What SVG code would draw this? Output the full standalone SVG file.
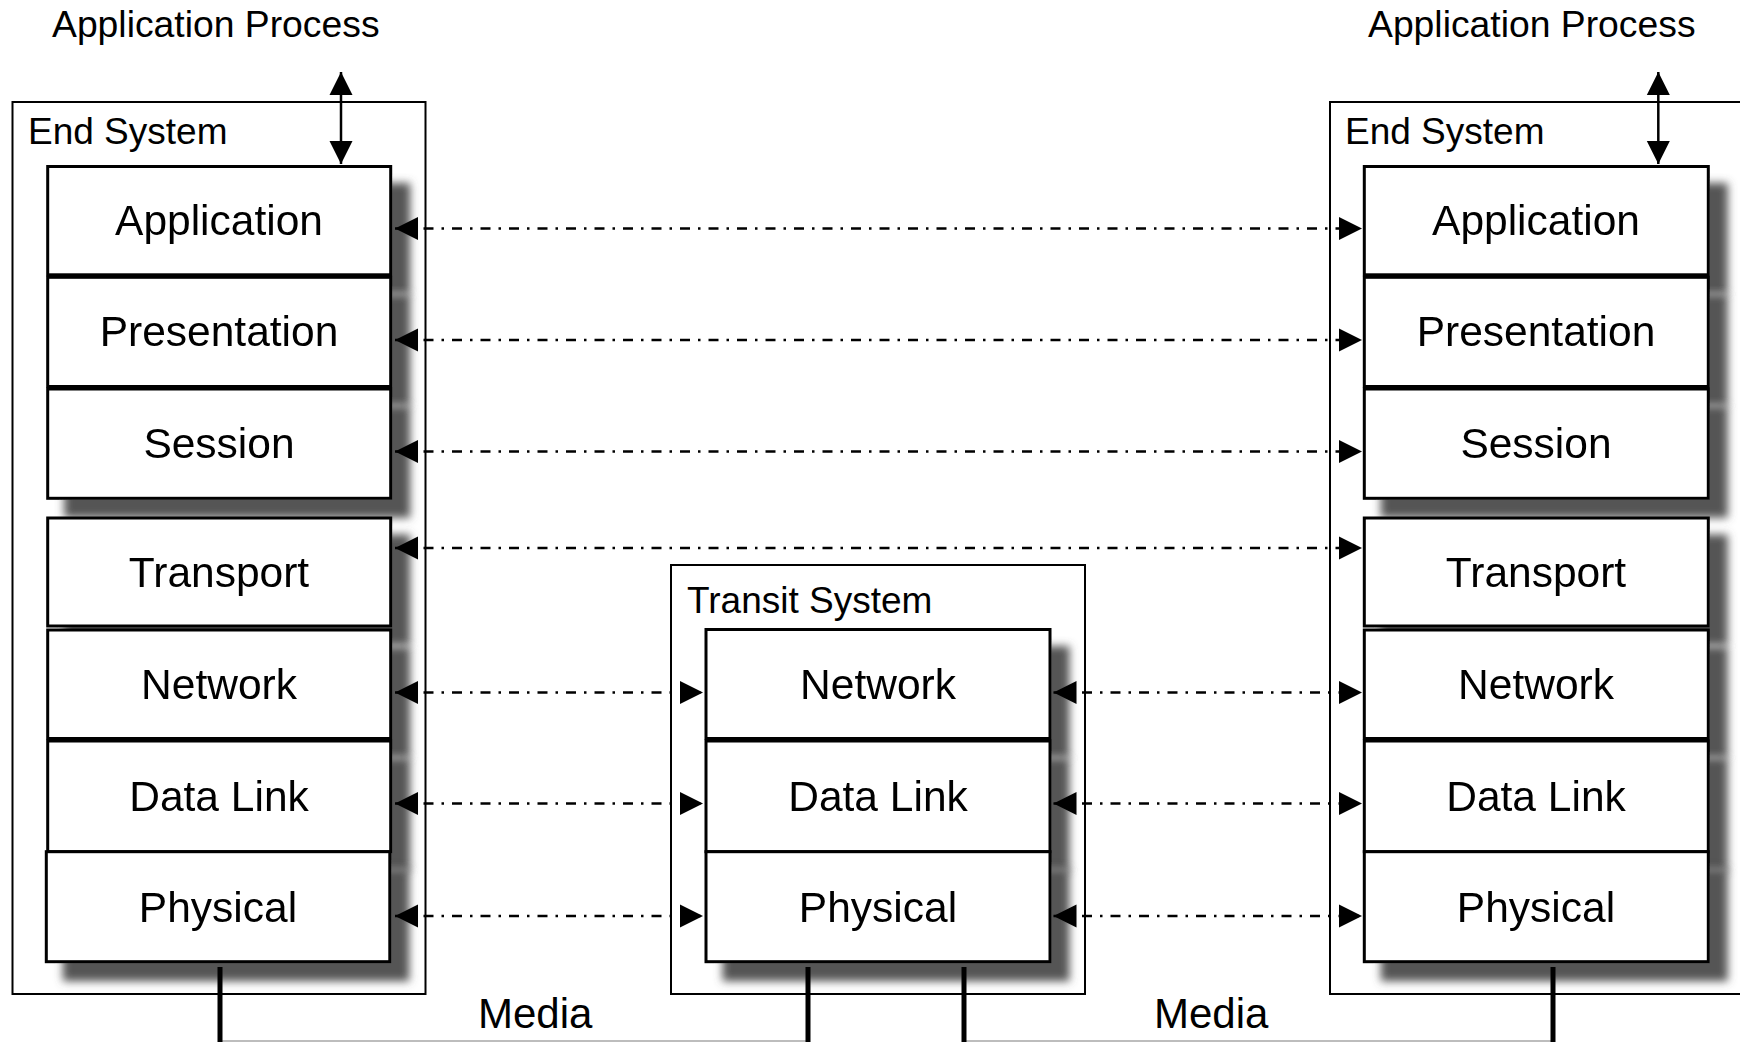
<svg xmlns="http://www.w3.org/2000/svg" width="1740" height="1042" viewBox="0 0 1740 1042">
<defs>
  <filter id="shadow" x="-10%" y="-10%" width="130%" height="140%">
    <feGaussianBlur in="SourceAlpha" stdDeviation="4.5" result="bl"/>
    <feOffset in="bl" dx="18" dy="18" result="b"/>
    <feFlood flood-color="#555555" result="c"/>
    <feComposite in="c" in2="b" operator="in" result="s"/>
    <feMerge><feMergeNode in="s"/><feMergeNode in="SourceGraphic"/></feMerge>
  </filter>
  <marker id="ah" markerUnits="userSpaceOnUse" markerWidth="24" markerHeight="24" refX="23" refY="12" orient="auto-start-reverse" viewBox="0 0 24 24">
    <path d="M0,0.5 L23,12 L0,23.5 Z" fill="#000"/>
  </marker>
</defs>
<style>
  .sys { fill: none; stroke: #000; stroke-width: 2; }
  .layer rect { fill: #fff; stroke: #000; stroke-width: 3; }
  .lbl { font-family: "Liberation Sans", Arial, sans-serif; font-size: 42.5px; text-anchor: middle; fill: #000; }
  .cap { font-family: "Liberation Sans", Arial, sans-serif; font-size: 37px; fill: #000; }
  .media { font-family: "Liberation Sans", Arial, sans-serif; font-size: 42px; fill: #000; }
  .peer { stroke: #000; stroke-width: 2.5; stroke-dasharray: 10 8 2.5 8; fill: none; marker-start: url(#ah); marker-end: url(#ah); }
  .api { stroke: #000; stroke-width: 2.5; fill: none; marker-start: url(#ah); marker-end: url(#ah); }
  .drop { stroke: #000; stroke-width: 5; }
  .wire { stroke: #bdbdbd; stroke-width: 2; }
</style>
<rect width="1740" height="1042" fill="#fff"/>

<text class="cap" x="52" y="37" style="font-size:37.3px">Application Process</text>
<text class="cap" x="1368" y="37" style="font-size:37.3px">Application Process</text>

<g id="end-system-left">
  <rect class="sys" x="12.5" y="102" width="413" height="892"/>
  <text class="cap" x="28" y="144">End System</text>
</g>
<g id="transit-system">
  <rect class="sys" x="671" y="565" width="414" height="429"/>
  <text class="cap" x="687" y="613">Transit System</text>
</g>
<g id="end-system-right">
  <rect class="sys" x="1330" y="102" width="440" height="892"/>
  <text class="cap" x="1345" y="144">End System</text>
</g>

<!-- left layers -->
<g id="L-application" class="layer" filter="url(#shadow)"><rect x="47.7" y="166.5" width="343" height="108.3"/><text class="lbl" x="219" y="235">Application</text></g>
<g id="L-presentation" class="layer" filter="url(#shadow)"><rect x="47.7" y="277.3" width="343" height="109.2"/><text class="lbl" x="219" y="346">Presentation</text></g>
<g id="L-session" class="layer" filter="url(#shadow)"><rect x="47.7" y="389" width="343" height="109.3"/><text class="lbl" x="219" y="458">Session</text></g>
<g id="L-transport" class="layer" filter="url(#shadow)"><rect x="47.7" y="518" width="343" height="108"/><text class="lbl" x="219" y="587">Transport</text></g>
<g id="L-network" class="layer" filter="url(#shadow)"><rect x="47.7" y="630" width="343" height="108.5"/><text class="lbl" x="219" y="699">Network</text></g>
<g id="L-datalink" class="layer" filter="url(#shadow)"><rect x="47.7" y="741" width="343" height="110.7"/><text class="lbl" x="219" y="811">Data Link</text></g>
<g id="L-physical" class="layer" filter="url(#shadow)"><rect x="46.3" y="851.7" width="343.5" height="110"/><text class="lbl" x="218" y="922">Physical</text></g>

<!-- transit layers -->
<g id="T-network" class="layer" filter="url(#shadow)"><rect x="706" y="629.5" width="344" height="109"/><text class="lbl" x="878" y="699">Network</text></g>
<g id="T-datalink" class="layer" filter="url(#shadow)"><rect x="706" y="741" width="344" height="110.7"/><text class="lbl" x="878" y="811">Data Link</text></g>
<g id="T-physical" class="layer" filter="url(#shadow)"><rect x="706" y="851.7" width="344" height="110"/><text class="lbl" x="878" y="922">Physical</text></g>

<!-- right layers -->
<g id="R-application" class="layer" filter="url(#shadow)"><rect x="1364.3" y="166.5" width="344" height="108.3"/><text class="lbl" x="1536" y="235">Application</text></g>
<g id="R-presentation" class="layer" filter="url(#shadow)"><rect x="1364.3" y="277.3" width="344" height="109.2"/><text class="lbl" x="1536" y="346">Presentation</text></g>
<g id="R-session" class="layer" filter="url(#shadow)"><rect x="1364.3" y="389" width="344" height="109.3"/><text class="lbl" x="1536" y="458">Session</text></g>
<g id="R-transport" class="layer" filter="url(#shadow)"><rect x="1364.3" y="518" width="344" height="108"/><text class="lbl" x="1536" y="587">Transport</text></g>
<g id="R-network" class="layer" filter="url(#shadow)"><rect x="1364.3" y="630" width="344" height="108.5"/><text class="lbl" x="1536" y="699">Network</text></g>
<g id="R-datalink" class="layer" filter="url(#shadow)"><rect x="1364.3" y="741" width="344" height="110.7"/><text class="lbl" x="1536" y="811">Data Link</text></g>
<g id="R-physical" class="layer" filter="url(#shadow)"><rect x="1364.3" y="851.7" width="344" height="110"/><text class="lbl" x="1536" y="922">Physical</text></g>

<g id="media-labels">
  <text class="media" x="478" y="1028">Media</text>
  <text class="media" x="1154" y="1028">Media</text>
</g>

<g id="connectors">
  <line class="api" x1="341" y1="72" x2="341" y2="164"/>
  <line class="api" x1="1658.3" y1="72" x2="1658.3" y2="164"/>

  <line class="peer" x1="395" y1="228.5" x2="1362" y2="228.5"/>
  <line class="peer" x1="395" y1="340" x2="1362" y2="340"/>
  <line class="peer" x1="395" y1="451.5" x2="1362" y2="451.5"/>
  <line class="peer" x1="395" y1="548" x2="1362" y2="548"/>

  <line class="peer" x1="395" y1="692.5" x2="703" y2="692.5"/>
  <line class="peer" x1="395" y1="803.5" x2="703" y2="803.5"/>
  <line class="peer" x1="395" y1="916" x2="703" y2="916"/>

  <line class="peer" x1="1053.5" y1="692.5" x2="1362" y2="692.5"/>
  <line class="peer" x1="1053.5" y1="803.5" x2="1362" y2="803.5"/>
  <line class="peer" x1="1053.5" y1="916" x2="1362" y2="916"/>

  <line class="wire" x1="220" y1="1041" x2="808" y2="1041"/>
  <line class="wire" x1="964" y1="1041" x2="1553" y2="1041"/>
  <line class="drop" x1="220" y1="967" x2="220" y2="1042"/>
  <line class="drop" x1="808" y1="967" x2="808" y2="1042"/>
  <line class="drop" x1="964" y1="967" x2="964" y2="1042"/>
  <line class="drop" x1="1553" y1="967" x2="1553" y2="1042"/>
</g>
</svg>
